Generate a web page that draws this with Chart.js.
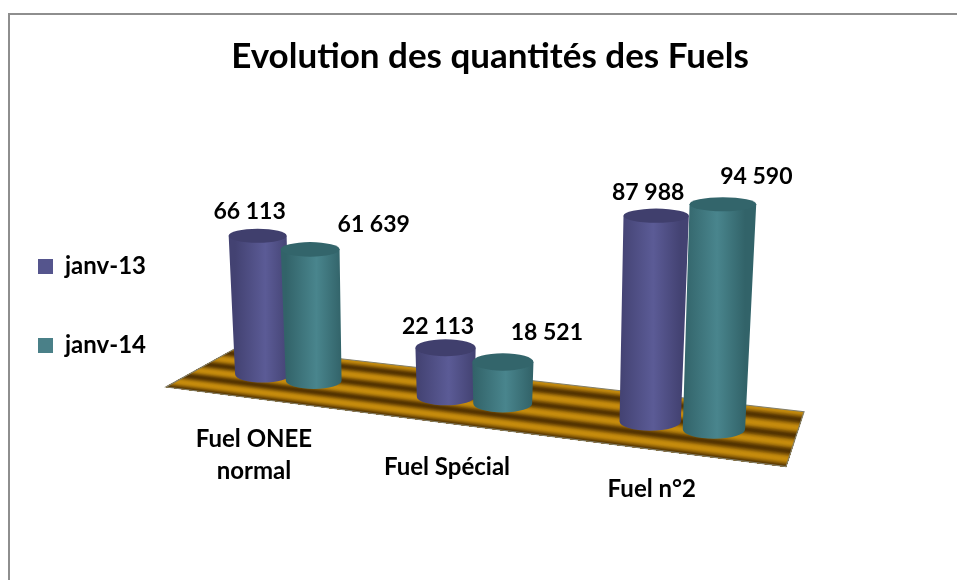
<!DOCTYPE html>
<html lang="fr">
<head>
  <meta charset="UTF-8">
  <title>Evolution des quantités des Fuels</title>
  <script src="https://cdn.jsdelivr.net/npm/chart.js"></script>
  <style>
    html, body { margin: 0; padding: 0; background: #fff; overflow: hidden; }
    #frame {
      position: absolute; left: 8px; top: 13px; right: 0; bottom: 0;
      border-left: 2px solid #8e8e8e; border-top: 2px solid #8e8e8e;
    }
    #chart { position: absolute; left: 0; top: 0; }
  </style>
</head>
<body>
  <div id="frame"></div>
  <canvas id="chart" width="957" height="580"></canvas>

  <script>
    const categories = [["Fuel ONEE", "normal"], "Fuel Spécial", "Fuel n°2"];
    const seriesNames = ["janv-13", "janv-14"];
    const janv13 = [66113, 22113, 87988];
    const janv14 = [61639, 18521, 94590];

    // Decalage manuel des etiquettes (deplacees a la main dans l'original)
    const valueLabelNudge = [
      [[-8, -17], [-7.5, -14], [-8, -16]],
      [[63.5, -17], [44, -22], [33.5, -20]]
    ];
    const categoryLabelNudge = [[-34, 70], [-27, 74.5], [-30, 72]];

    const colors = {
      purple: { edge: "#434272", mid: "#5b5b96", top: "#403f6d", legend: "#55558d" },
      teal: { edge: "#326369", mid: "#49858d", top: "#33656b", legend: "#4a8088" }
    };
    const seriesColors = [colors.purple, colors.teal];

    // Vue en perspective du plan : l'echelle plate de Chart.js -> ecran
    const view = {
      floorLeft: 202, floorRight: 795, // axe du sol, sur l'ecran
      depthRatio: 1.18,                // gauche plus loin que droite
      nearHeight: 243,                 // hauteur de l'axe complet au premier plan
      widthGain: 1.09,
      floorY0: 367, floorSlope: 0.1217,
      vanishX: 475, vanishDist: 6000,
      backLeft: [36, -20], backRight: [9, -27.5]
    };

    function project(chart, px) {
      const area = chart.chartArea;
      const u = (px - area.left) / area.width;
      const w = (1 - u) * view.depthRatio + u;
      return {
        x: view.floorLeft + (view.floorRight - view.floorLeft) * (u / w),
        scale: 1 / w
      };
    }

    function floorY(x) {
      return view.floorY0 + (x - view.floorLeft) * view.floorSlope;
    }

    function mix(a, b, t) {
      return `rgb(${a.map((v, i) => Math.round(v + (b[i] - v) * t)).join(",")})`;
    }

    function drawFloor(ctx) {
      const fl = view.floorLeft, fr = view.floorRight;
      const corner = (x, off, d) => [x + off[0] * d, floorY(x) + off[1] * d];
      const edge = d => [corner(fl, view.backLeft, d), corner(fr, view.backRight, d)];
      const gold = [198, 140, 14], dark = [84, 52, 2];
      const steps = 80, bands = 3.5;
      const front = edge(-1);
      for (let i = 0; i < steps; i++) {
        const t = i / steps;
        const back = edge(1 - 2 * t);
        const k = Math.pow((1 - Math.cos(2 * Math.PI * bands * t)) / 2, 1.2);
        ctx.fillStyle = mix(gold, dark, k);
        ctx.beginPath();
        ctx.moveTo(back[0][0], back[0][1]);
        ctx.lineTo(back[1][0], back[1][1]);
        ctx.lineTo(front[1][0], front[1][1]);
        ctx.lineTo(front[0][0], front[0][1]);
        ctx.closePath();
        ctx.fill();
      }
      const back = edge(1);
      ctx.strokeStyle = "#85806a";
      ctx.lineWidth = 1.2;
      ctx.beginPath();
      ctx.moveTo(back[0][0], back[0][1]);
      ctx.lineTo(back[1][0], back[1][1]);
      ctx.lineTo(front[1][0], front[1][1]);
      ctx.lineTo(front[0][0], front[0][1]);
      ctx.closePath();
      ctx.stroke();
    }

    function cylinder(chart, el, col) {
      const ctx = chart.ctx;
      const area = chart.chartArea;
      const c = project(chart, el.x);
      const rxTopBase = (el.width / 2) * ((view.floorRight - view.floorLeft) / area.width) * c.scale * view.widthGain;
      const rxBase = rxTopBase * 0.97;
      const h = (el.base - el.y) * (view.nearHeight / area.height) * c.scale;
      const spread = h / view.vanishDist;
      const bx = c.x, by = floorY(c.x);
      const tx = bx + (bx - view.vanishX) * spread, ty = by - h;
      const rxTop = rxTopBase * (1 + spread);
      const ryBase = rxBase * 0.3;
      const ryTop = rxTop * (0.3 - h * 0.0004);

      const grad = ctx.createLinearGradient(bx - rxBase, 0, bx + rxBase, 0);
      grad.addColorStop(0, col.edge);
      grad.addColorStop(0.55, col.mid);
      grad.addColorStop(1, col.edge);
      ctx.fillStyle = grad;
      ctx.beginPath();
      ctx.moveTo(tx - rxTop, ty);
      ctx.lineTo(bx - rxBase, by);
      ctx.ellipse(bx, by, rxBase, ryBase, 0, Math.PI, 0, true);
      ctx.lineTo(tx + rxTop, ty);
      ctx.closePath();
      ctx.fill();

      ctx.fillStyle = col.top;
      ctx.beginPath();
      ctx.ellipse(tx, ty, rxTop, ryTop, 0, 0, Math.PI * 2);
      ctx.fill();
      return { x: tx, y: ty };
    }

    const cylinderPlugin = {
      id: "cylinders",
      beforeDatasetsDraw(chart) {
        const ctx = chart.ctx;
        ctx.save();
        drawFloor(ctx);

        const tops = [];
        categories.forEach((_, i) => {
          chart.data.datasets.forEach((ds, d) => {
            const el = chart.getDatasetMeta(d).data[i];
            (tops[d] = tops[d] || [])[i] = cylinder(chart, el, seriesColors[d]);
          });
        });

        ctx.fillStyle = "#000";
        ctx.textBaseline = "alphabetic";
        ctx.textAlign = "center";
        ctx.font = "700 23px Lato";
        chart.data.datasets.forEach((ds, d) => {
          ds.data.forEach((v, i) => {
            const txt = String(v).replace(/\B(?=(\d{3})+$)/g, " ");
            const n = valueLabelNudge[d][i];
            ctx.fillText(txt, tops[d][i].x + n[0], tops[d][i].y + n[1]);
          });
        });

        ctx.font = "700 24px Lato";
        const xScale = chart.scales.x;
        categories.forEach((cat, i) => {
          const p = project(chart, xScale.getPixelForValue(i));
          const n = categoryLabelNudge[i];
          [].concat(cat).forEach((line, k) => {
            ctx.fillText(line, p.x + n[0], floorY(p.x) + n[1] + k * 32);
          });
        });
        ctx.restore();
        return false; // les cylindres remplacent les barres plates
      }
    };

    new Chart(document.getElementById("chart"), {
      type: "bar",
      data: {
        labels: categories,
        datasets: [
          { label: seriesNames[0], data: janv13, backgroundColor: colors.purple.legend },
          { label: seriesNames[1], data: janv14, backgroundColor: colors.teal.legend }
        ]
      },
      options: {
        responsive: false,
        animation: false,
        layout: { padding: { left: -17, right: 133, top: 32, bottom: 0 } },
        datasets: { bar: { categoryPercentage: 0.58, barPercentage: 1.05 } },
        scales: {
          x: { display: false },
          y: { display: false, min: 0, max: 100000 }
        },
        plugins: {
          title: {
            display: true,
            fullSize: false,
            text: "Evolution des quantités des Fuels",
            color: "#000",
            font: { family: "Lato", weight: "700", size: 35 },
            padding: { top: 4, bottom: 60 }
          },
          legend: {
            position: "left",
            labels: {
              boxWidth: 15,
              boxHeight: 15,
              padding: 55,
              color: "#000",
              font: { family: "Lato", weight: "700", size: 24 }
            }
          },
          tooltip: { enabled: false }
        }
      },
      plugins: [cylinderPlugin]
    });
  </script>
</body>
</html>
